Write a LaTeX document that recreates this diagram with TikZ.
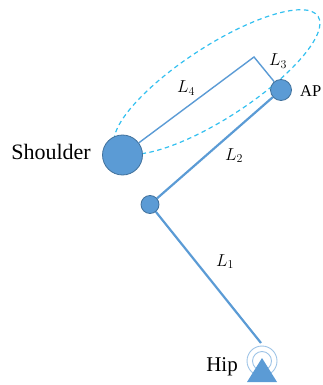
\documentclass[tikz,border=0pt]{standalone}
\usepackage{amsmath}
\usepackage{xcolor}
\usepackage{fontspec}
\setmainfont{Liberation Serif}
\definecolor{jointBlue}{HTML}{5B9BD5}
\definecolor{jointEdge}{HTML}{41719C}
\definecolor{ringBlue}{HTML}{9DC3E6}
\definecolor{pathCyan}{HTML}{33C0F0}
\tikzset{
  jointDot/.style={circle, draw=jointEdge, line width=0.8pt, fill=jointBlue, inner sep=0pt, minimum size=#1},
  linkBar/.style={draw=jointBlue, line width=#1},
  armLabel/.style={inner sep=0pt, font=\fontsize{#1}{#1}\selectfont},
  linkLabel/.style={inner sep=0pt, font=\fontsize{18}{18}\selectfont}
}
\begin{document}
\begin{tikzpicture}[x=1pt,y=-1pt]
\useasboundingbox (0,0) rectangle (322,385);
\coordinate (pKink) at (254,57);
\coordinate (pHipEnd) at (261,343);
\draw[pathCyan, line width=1.2pt, dash pattern=on 4.5pt off 3.5pt, rotate around={33:(217,82)}] (217,82) ellipse (120.5 and 36);
\node[jointDot=40pt] (nShoulder) at (122.5,155) {};
\node[jointDot=18pt] (nElbow) at (150,204.5) {};
\node[jointDot=21pt] (nAP) at (281,90) {};
\draw[ringBlue, line width=0.9pt] (262,361) circle (15);
\draw[ringBlue, line width=0.9pt] (262,361) circle (9.5);
\draw[linkBar=1.4pt] (nShoulder) -- (pKink) -- (nAP);
\draw[linkBar=2.2pt] (nElbow) -- (nAP);
\draw[linkBar=2.2pt] (nElbow) -- (pHipEnd);
\fill[jointBlue] (262,358) -- (277,382) -- (247,382) -- cycle;
\node[armLabel=22, anchor=base] (tShoulder) at (51,159) {Shoulder};
\node[armLabel=16.5, anchor=base east] (tAP) at (321.5,96) {AP};
\node[armLabel=21, anchor=base] (tHip) at (222,371) {Hip};
\node[linkLabel, anchor=base] (tLOne) at (225,266) {$L_1$};
\node[linkLabel, anchor=base] (tLTwo) at (234,160) {$L_2$};
\node[linkLabel, anchor=base] (tLThree) at (278,66) {$L_3$};
\node[linkLabel, anchor=base] (tLFour) at (186,93) {$L_4$};
\end{tikzpicture}
\end{document}
